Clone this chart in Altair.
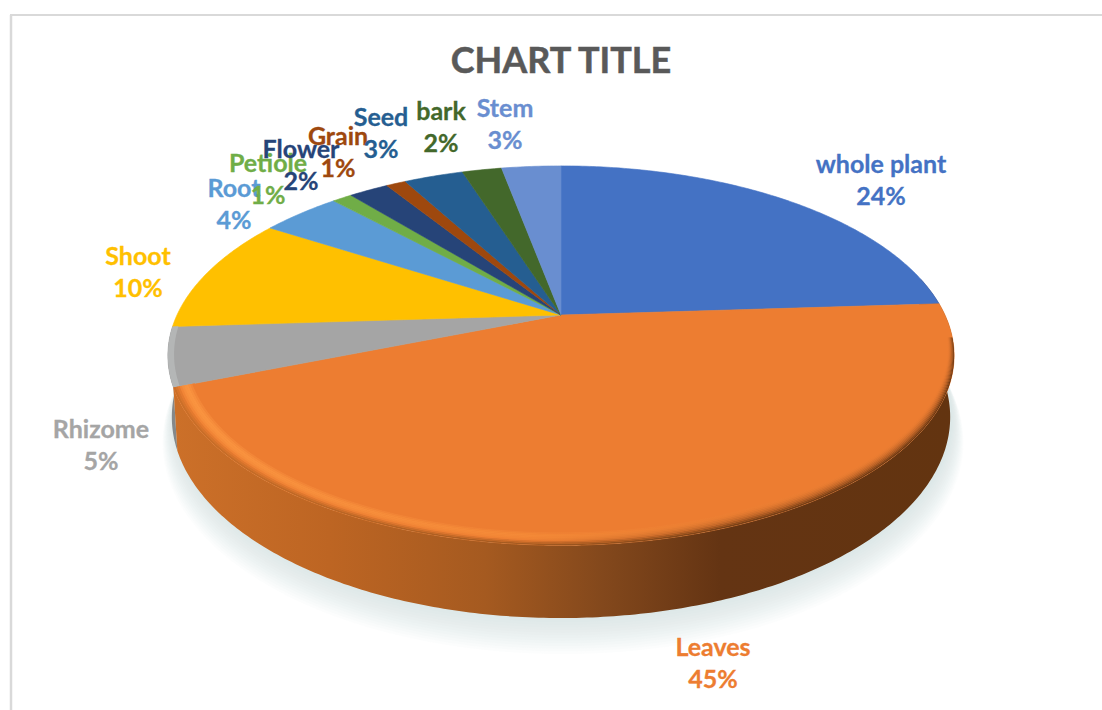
import math
import altair as alt

# Slice data, clockwise from twelve o'clock
names = ["whole plant", "Leaves", "Rhizome", "Shoot", "Root", "Petiole",
         "Flower", "Grain", "Seed", "bark", "Stem"]
shares = [24, 45, 5, 10, 4, 1, 2, 1, 3, 2, 3]
colors = ["#4472C4", "#ED7D31", "#A5A5A5", "#FFC000", "#5B9BD5", "#70AD47",
          "#264478", "#9E480E", "#255E91", "#43682B", "#698ED0"]

# Label layout, kept apart from the values (centre x, centre y of the name line)
label_x = [881, 713, 101, 138, 234, 268, 301, 338, 381, 441, 505]
label_y = [165, 648, 430, 257, 189, 164, 150, 137, 118, 112, 109]
LINE_GAP = 32

W, H = 1102, 710
CX, CY = 561, 315     # apex of the pie on the page
BX, BY = 384, 181     # horizontal and vertical radius before perspective
PERSP = 0.214         # foreshortening of the far edge
DROP = 59             # thickness of the disc
BOTTOM_SCALE = 0.99   # the lower face sits slightly further from the eye


def point(theta, r=1.0, drop=0.0, grow=1.0, dx=0.0):
    d = 1 + PERSP * r * math.cos(theta)
    x = CX + dx + grow * BX * r * math.sin(theta) / d
    y = CY - grow * BY * r * math.cos(theta) / d + drop / d
    return [round(x, 2), round(y, 2)]


def arc(t0, t1, r=1.0, drop=0.0, grow=1.0, dx=0.0, n=None):
    n = n or max(3, int(abs(t1 - t0) * 90))
    return [point(t0 + (t1 - t0) * i / n, r, drop, grow, dx) for i in range(n + 1)]


def feature(ring, **props):
    ring = ring + [ring[0]]
    return {"type": "Feature", "properties": props,
            "geometry": {"type": "Polygon", "coordinates": [ring]}}


def gradient(*stops):
    return {"gradient": "linear", "x1": 0, "x2": 1, "y1": 0, "y2": 0,
            "stops": [{"offset": o, "color": c} for o, c in stops]}


def mix(a, b, t):
    ca = [int(a[i:i + 2], 16) for i in (1, 3, 5)]
    cb = [int(b[i:i + 2], 16) for i in (1, 3, 5)]
    return "#" + "".join(f"{round(x + (y - x) * t):02X}" for x, y in zip(ca, cb))


def tapered_band(t0, t1, w0, w1):
    """Ring sector between two inset widths, narrower towards t0."""
    n = max(3, int(abs(t1 - t0) * 90))
    outer, inner = [], []
    for i in range(n + 1):
        u = i / n
        th = t0 + (t1 - t0) * u
        taper = min(1.0, 0.3 + u * 1.8)
        outer.append(point(th, 1.0 - w0 * taper))
        inner.append(point(th, 1.0 - w1 * taper))
    return [feature(outer + inner[::-1], name="rim")]


def wall(t0, t1):
    top = arc(t0, t1)
    low = arc(t1, t0, drop=DROP, grow=BOTTOM_SCALE)
    return [feature(top + low, name="wall")]


def geo(features, **mark):
    return (alt.Chart(alt.Data(values=features, format=alt.DataFormat(type="json")))
            .mark_geoshape(**mark)
            .project(type="identity", scale=1, translate=[0, 0]))


# Cumulative angles of the slice boundaries
angles = [0.0]
for s in shares:
    angles.append(angles[-1] + s / sum(shares) * 2 * math.pi)
leaves_start, leaves_end = angles[1], angles[2]
rhizome_end = angles[3]

# Soft cast shadow below the disc
shadow_layers = []
for k in range(14):
    disc = arc(0, 2 * math.pi, drop=DROP + 1 + k * 1.7, grow=BOTTOM_SCALE + 0.0022 * k, dx=2, n=240)
    shadow_layers.append(geo([feature(disc[:-1], name="shadow")],
                             fill="#C8D2D6", opacity=0.055, strokeWidth=0))

# Side wall
wall_rhizome = geo(wall(leaves_end, rhizome_end), fill="#84888A", strokeWidth=0)
wall_leaves = geo(wall(math.radians(78), leaves_end),
                  fill=gradient((0, "#CC7029"), (0.2, "#BD6523"), (0.4, "#A55A20"),
                                (0.55, "#83481C"), (0.7, "#643413"), (1, "#633410")),
                  strokeWidth=0)

# Top face
slice_features = [
    feature([[CX, CY]] + arc(angles[i], angles[i + 1]), name=names[i])
    for i in range(len(names))
]
faces = geo(slice_features, strokeWidth=0.6).encode(
    fill=alt.Color("properties.name:N", scale=alt.Scale(domain=names, range=colors), legend=None),
    stroke=alt.Color("properties.name:N", scale=alt.Scale(domain=names, range=colors), legend=None),
)

# Soft bevel along the front edge: thin concentric strips running from the surface colour
# on the inside, through a highlight at lower left and a shade at right, to the wall colour
SURFACE = "#ED7D31"
rim_layers = []
STRIPS = 10
RIM_WIDTH = 0.05
rim_span = (math.radians(97), leaves_end)
for j in range(STRIPS):
    u = 1 - j / (STRIPS - 1)   # 0 on the inner side of the bevel, 1 at the outer edge
    hot = math.sin(min(u / 0.75, 1.0) * math.pi)
    toward_wall = max(0.0, u - 0.7) / 0.3
    left = mix(mix(SURFACE, "#FA9440", hot), "#CC7029", toward_wall)
    middle = mix(mix(SURFACE, "#F68C38", hot * 0.8), "#A55A20", toward_wall)
    right = mix(SURFACE, "#6A3713", u ** 2.0)
    rim_layers.append(geo(
        tapered_band(*rim_span, j * RIM_WIDTH / STRIPS, (j + 1.15) * RIM_WIDTH / STRIPS),
        fill=gradient((0, left), (0.45, middle), (0.72, mix(middle, right, 0.75)), (1, right)),
        strokeWidth=0,
    ))
rim_rhizome = geo(
    [feature(arc(leaves_end, rhizome_end, 1.0) + arc(rhizome_end, leaves_end, 0.985), name="rim")],
    fill="#B4B6B6", strokeWidth=0)

# Frame of the chart area
frame_top = alt.Chart().mark_rule(color="#D9D9D9", strokeWidth=2).encode(
    x=alt.value(10), x2=alt.value(W), y=alt.value(15))
frame_left = alt.Chart().mark_rule(color="#D9D9D9", strokeWidth=2.5).encode(
    x=alt.value(11), y=alt.value(15), y2=alt.value(H))

x_page = alt.X("px:Q", scale=alt.Scale(domain=[0, W], range=[0, W], nice=False, zero=False), axis=None)
y_page = alt.Y("py:Q", scale=alt.Scale(domain=[0, H], range=[0, H], nice=False, zero=False), axis=None)

# Name and percentage lines, in slice order so later labels sit on top
label_rows = []
for i, n in enumerate(names):
    label_rows.append({"label": n, "slice": n, "px": label_x[i], "py": label_y[i]})
    label_rows.append({"label": f"{shares[i]}%", "slice": n, "px": label_x[i], "py": label_y[i] + LINE_GAP})

label_scale = alt.Scale(domain=names, range=colors)
labels = alt.Chart(alt.Data(values=label_rows)).mark_text(
    font="Lato", fontWeight="bold", fontSize=25, align="center", baseline="middle", strokeWidth=0.3
).encode(
    x=x_page, y=y_page, text="label:N",
    color=alt.Color("slice:N", scale=label_scale, legend=None),
    stroke=alt.Color("slice:N", scale=label_scale, legend=None),
)

title = alt.Chart(alt.Data(values=[{"label": "CHART TITLE", "px": 561, "py": 62}])).mark_text(
    font="Lato", fontWeight="bold", fontSize=36, align="center", baseline="middle",
    color="#595959", stroke="#595959", strokeWidth=0.5
).encode(x=x_page, y=y_page, text="label:N")

chart = alt.layer(
    frame_top, frame_left, *shadow_layers, wall_rhizome, wall_leaves,
    faces, rim_rhizome, *rim_layers, labels, title
).resolve_scale(color="independent", stroke="independent").properties(
    width=W, height=H, padding=0, autosize=alt.AutoSizeParams(type="none"), background="white"
).configure_view(strokeWidth=0)

chart.save("out.html", embed_options={"renderer": "svg", "actions": False})
